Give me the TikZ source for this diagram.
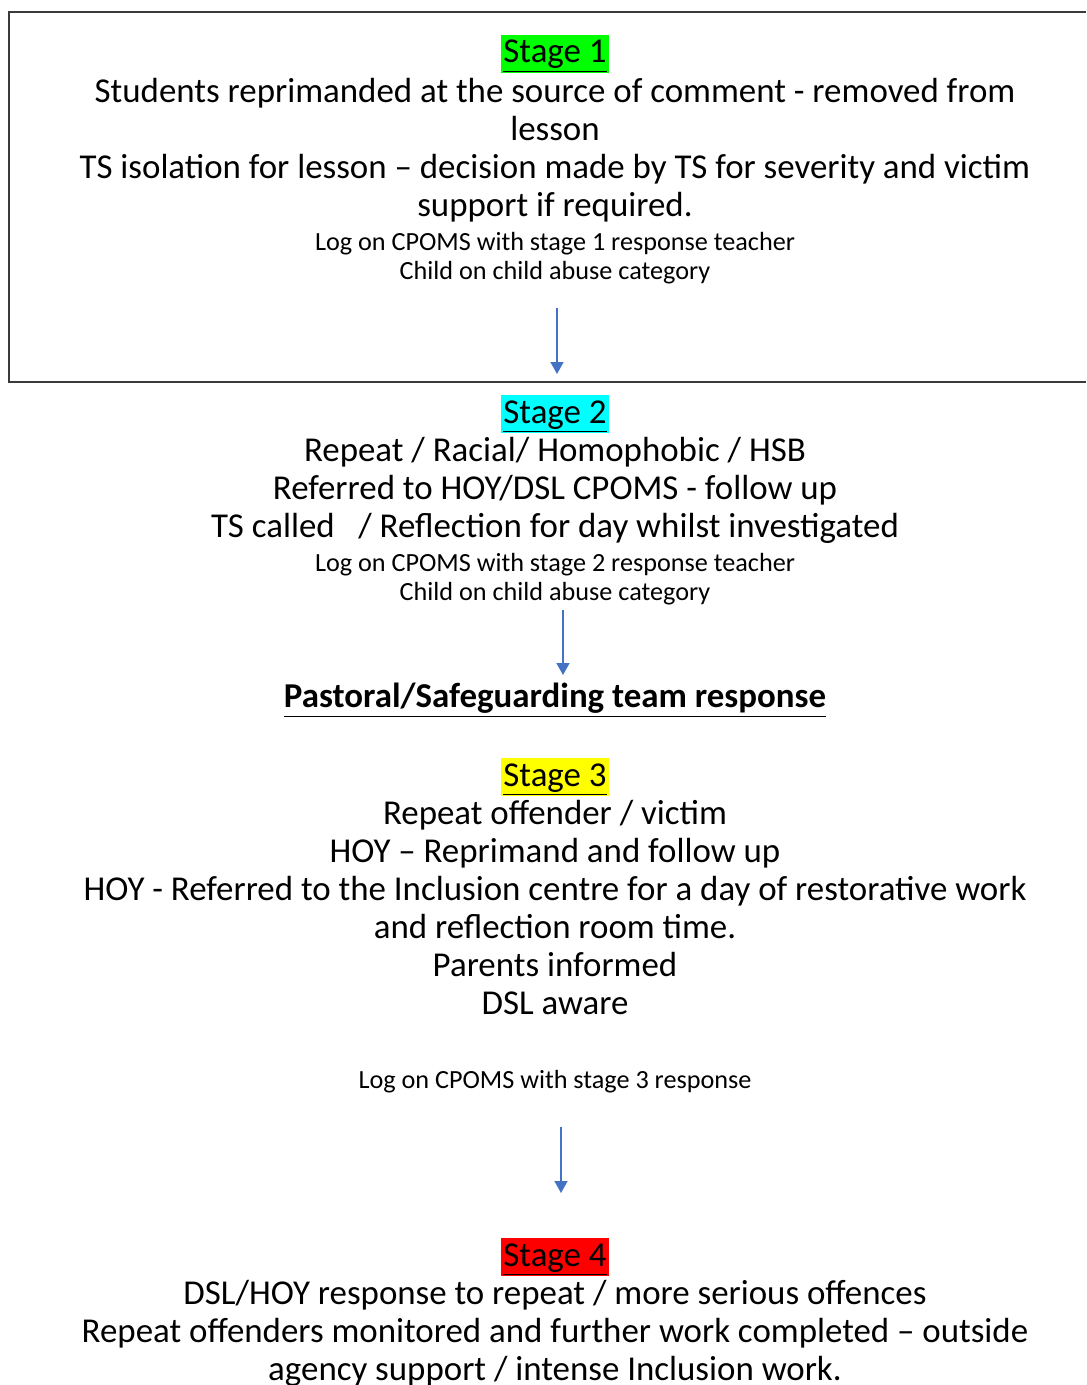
\documentclass[tikz,border=0pt]{standalone}
\usepackage{fontspec}
\setmainfont{Carlito}
\usetikzlibrary{arrows.meta}
\definecolor{arrowblue}{HTML}{4472C4}
\definecolor{boxgray}{HTML}{3A3A3A}
\definecolor{hlgreen}{HTML}{00FF00}
\definecolor{hlcyan}{HTML}{00FFFF}
\definecolor{hlyellow}{HTML}{FFFF00}
\definecolor{hlred}{HTML}{FF0000}
\newcommand{\bigtxt}{\fontsize{17.45}{19}\selectfont}
\newcommand{\smalltxt}{\fontsize{13.1}{14.5}\selectfont}
\tikzset{
    every node/.style={font=\bigtxt, align=center, inner sep=0pt},
    bodytext/.style={anchor=north},
    smalltext/.style={font=\smalltxt, anchor=north},
    stagelabel/.style={inner xsep=1pt, text height=14pt, text depth=5pt},
    arrow/.style={-{Triangle[length=6pt, width=6.5pt]}, draw=arrowblue, line width=0.75pt},
}

\begin{document}
\begin{tikzpicture}[x=0.5pt, y=-0.5pt]
\clip (0,0) rectangle (1086,1385);
% open box round stage 1, runs off the right edge
\draw[boxgray, line width=1pt] (1086,12) -- (9,12) -- (9,382) -- (1086,382);

% stage 1
\node[stagelabel, fill=hlgreen] (stage1) at (555,54) {\underline{Stage 1}};
\node[bodytext] (body1) at (555,78) {Students reprimanded at the source of comment - removed from\\lesson\\TS isolation for lesson -- decision made by TS for severity and victim\\support if required.};
\node[smalltext] (log1) at (555,232) {Log on CPOMS with stage 1 response teacher\\Child on child abuse category};

% stage 2
\node[stagelabel, fill=hlcyan] (stage2) at (555,414) {\underline{Stage 2}};
\node[bodytext] (body2) at (555,437) {Repeat / Racial/ Homophobic / HSB\\Referred to HOY/DSL CPOMS - follow up\\TS called\ \ \ / Reflection for day whilst investigated};
\node[smalltext] (log2) at (555,553) {Log on CPOMS with stage 2 response teacher\\Child on child abuse category};

% pastoral team
\node (pastoral) at (555,700) {\textbf{\underline{Pastoral/Safeguarding team response}}};

% stage 3
\node[stagelabel, fill=hlyellow] (stage3) at (555,777) {\underline{Stage 3}};
\node[bodytext] (body3) at (555,800) {Repeat offender / victim\\HOY -- Reprimand and follow up\\HOY - Referred to the Inclusion centre for a day of restorative work\\and reflection room time.\\Parents informed\\DSL aware};
\node[smalltext] (log3) at (555,1070) {Log on CPOMS with stage 3 response};

% stage 4
\node[stagelabel, fill=hlred] (stage4) at (555,1257) {\underline{Stage 4}};
\node[bodytext] (body4) at (555,1280) {DSL/HOY response to repeat / more serious offences\\Repeat offenders monitored and further work completed -- outside\\agency support / intense Inclusion work.};

% arrows between the stages
\coordinate (a1s) at (557,308);
\coordinate (a1e) at (557,374);
\coordinate (a2s) at (563,610);
\coordinate (a2e) at (563,675);
\coordinate (a3s) at (561,1127);
\coordinate (a3e) at (561,1193);
\draw[arrow] (a1s) -- (a1e);
\draw[arrow] (a2s) -- (a2e);
\draw[arrow] (a3s) -- (a3e);
\end{tikzpicture}
\end{document}
